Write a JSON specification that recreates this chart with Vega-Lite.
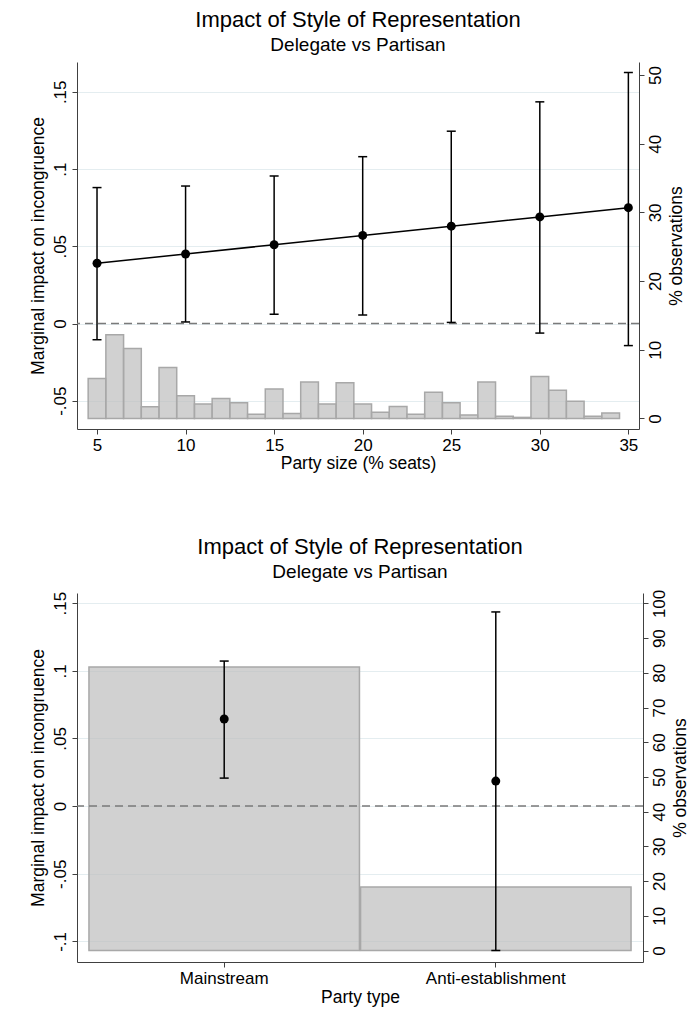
{
  "$schema": "https://vega.github.io/schema/vega-lite/v6.json",
  "padding": {"left": 29, "top": 9, "right": 5, "bottom": 4},
  "spacing": 64,
  "config": {
    "font": "Liberation Sans",
    "view": {"stroke": null},
    "axis": {
      "domainColor": "#404040", "tickColor": "#404040", "labelColor": "#000000", "titleColor": "#000000",
      "labelFontSize": 17, "titleFontSize": 17.5, "titleFontWeight": "normal", "tickSize": 5,
      "gridColor": "#e4edf0", "labelFont": "Liberation Sans", "titleFont": "Liberation Sans"
    },
    "title": {
      "fontSize": 22, "fontWeight": "normal", "color": "#000000", "subtitleFontSize": 19, "subtitleColor": "#000000",
      "subtitleFont": "Liberation Sans", "font": "Liberation Sans",
      "anchor": "middle", "frame": "group", "subtitlePadding": 4, "offset": 6
    }
  },
  "datasets": {
    "hist": [
      {"bin_start": 4.5, "bin_end": 5.5, "pct": 5.8},
      {"bin_start": 5.5, "bin_end": 6.5, "pct": 12.2},
      {"bin_start": 6.5, "bin_end": 7.5, "pct": 10.2},
      {"bin_start": 7.5, "bin_end": 8.5, "pct": 1.7},
      {"bin_start": 8.5, "bin_end": 9.5, "pct": 7.4},
      {"bin_start": 9.5, "bin_end": 10.5, "pct": 3.3},
      {"bin_start": 10.5, "bin_end": 11.5, "pct": 2.1},
      {"bin_start": 11.5, "bin_end": 12.5, "pct": 2.9},
      {"bin_start": 12.5, "bin_end": 13.5, "pct": 2.3},
      {"bin_start": 13.5, "bin_end": 14.5, "pct": 0.6},
      {"bin_start": 14.5, "bin_end": 15.5, "pct": 4.3},
      {"bin_start": 15.5, "bin_end": 16.5, "pct": 0.7},
      {"bin_start": 16.5, "bin_end": 17.5, "pct": 5.3},
      {"bin_start": 17.5, "bin_end": 18.5, "pct": 2.1},
      {"bin_start": 18.5, "bin_end": 19.5, "pct": 5.2},
      {"bin_start": 19.5, "bin_end": 20.5, "pct": 2.1},
      {"bin_start": 20.5, "bin_end": 21.5, "pct": 0.9},
      {"bin_start": 21.5, "bin_end": 22.5, "pct": 1.75},
      {"bin_start": 22.5, "bin_end": 23.5, "pct": 0.6},
      {"bin_start": 23.5, "bin_end": 24.5, "pct": 3.8},
      {"bin_start": 24.5, "bin_end": 25.5, "pct": 2.3},
      {"bin_start": 25.5, "bin_end": 26.5, "pct": 0.5},
      {"bin_start": 26.5, "bin_end": 27.5, "pct": 5.3},
      {"bin_start": 27.5, "bin_end": 28.5, "pct": 0.3},
      {"bin_start": 28.5, "bin_end": 29.5, "pct": 0.15},
      {"bin_start": 29.5, "bin_end": 30.5, "pct": 6.1},
      {"bin_start": 30.5, "bin_end": 31.5, "pct": 4.1},
      {"bin_start": 31.5, "bin_end": 32.5, "pct": 2.5},
      {"bin_start": 32.5, "bin_end": 33.5, "pct": 0.3},
      {"bin_start": 33.5, "bin_end": 34.5, "pct": 0.8}
    ],
    "est": [
      {"size": 5, "est": 0.039, "lo": -0.0105, "hi": 0.088},
      {"size": 10, "est": 0.045, "lo": 0.001, "hi": 0.089},
      {"size": 15, "est": 0.051, "lo": 0.006, "hi": 0.0955},
      {"size": 20, "est": 0.057, "lo": 0.0055, "hi": 0.108},
      {"size": 25, "est": 0.063, "lo": 0.0007, "hi": 0.1245},
      {"size": 30, "est": 0.069, "lo": -0.0062, "hi": 0.1435},
      {"size": 35, "est": 0.075, "lo": -0.0143, "hi": 0.1625}
    ],
    "typebar": [
      {"type": "Mainstream", "pct": 81.7},
      {"type": "Anti-establishment", "pct": 18.3}
    ],
    "typeest": [
      {"type": "Mainstream", "est": 0.0644, "lo": 0.0207, "hi": 0.1072},
      {"type": "Anti-establishment", "est": 0.0185, "lo": -0.1067, "hi": 0.1435}
    ],
    "zero": [{"z": 0}]
  },
  "vconcat": [
    {
      "width": 562,
      "height": 367,
      "title": {"text": "Impact of Style of Representation", "subtitle": "Delegate vs Partisan"},
      "resolve": {"scale": {"y": "independent"}},
      "layer": [
        {
          "data": {"name": "hist"},
          "mark": {"type": "bar", "fill": "#bdbdbd", "fillOpacity": 0.7, "stroke": "#a8a8a8", "strokeWidth": 1.5},
          "encoding": {
            "x": {"field": "bin_start", "type": "quantitative", "title": "Party size (% seats)",
              "scale": {"domain": [3.87, 35.6], "nice": false, "zero": false},
              "axis": {"values": [5, 10, 15, 20, 25, 30, 35], "grid": false, "labelPadding": 3, "titlePadding": 1, "labelAngle": 0}},
            "x2": {"field": "bin_end"},
            "y": {"field": "pct", "type": "quantitative", "title": "% observations",
              "scale": {"domain": [-1.54, 51.9], "nice": false, "zero": false},
              "axis": {"orient": "right", "values": [0, 10, 20, 30, 40, 50], "grid": false, "labelAngle": -90,
                "labelAlign": "center", "labelBaseline": "top", "labelPadding": 3,
                "titleAngle": -90, "titleBaseline": "top", "titlePadding": 4}},
            "y2": {"datum": 0}
          }
        },
        {
          "layer": [
            {
              "data": {"name": "zero"},
              "mark": {"type": "rule", "color": "#7a7a7a", "strokeWidth": 1.5, "strokeDash": [8, 5]},
              "encoding": {
                "y": {"field": "z", "type": "quantitative", "title": "Marginal impact on incongruence",
                  "scale": {"domain": [-0.0683, 0.1693], "nice": false, "zero": false},
                  "axis": {"orient": "left", "values": [-0.05, 0, 0.05, 0.1, 0.15], "grid": true, "labelAngle": -90,
                    "labelAlign": "center", "labelBaseline": "bottom", "labelPadding": 3,
                    "labelExpr": "replace(datum.value + '', '0.', '.')", "titlePadding": 4}}
              }
            },
            {
              "data": {"name": "est"},
              "mark": {"type": "rule", "color": "#000000", "strokeWidth": 1.5},
              "encoding": {
                "x": {"field": "size", "type": "quantitative", "title": "Party size (% seats)"},
                "y": {"field": "lo", "type": "quantitative", "title": "Marginal impact on incongruence"},
                "y2": {"field": "hi"}
              }
            },
            {
              "data": {"name": "est"},
              "mark": {"type": "tick", "orient": "horizontal", "color": "#000000", "size": 9, "thickness": 1.5, "opacity": 1},
              "encoding": {
                "x": {"field": "size", "type": "quantitative", "title": "Party size (% seats)"},
                "y": {"field": "lo", "type": "quantitative", "title": "Marginal impact on incongruence"}
              }
            },
            {
              "data": {"name": "est"},
              "mark": {"type": "tick", "orient": "horizontal", "color": "#000000", "size": 9, "thickness": 1.5, "opacity": 1},
              "encoding": {
                "x": {"field": "size", "type": "quantitative", "title": "Party size (% seats)"},
                "y": {"field": "hi", "type": "quantitative", "title": "Marginal impact on incongruence"}
              }
            },
            {
              "data": {"name": "est"},
              "mark": {"type": "line", "color": "#000000", "strokeWidth": 1.5},
              "encoding": {
                "x": {"field": "size", "type": "quantitative", "title": "Party size (% seats)"},
                "y": {"field": "est", "type": "quantitative", "title": "Marginal impact on incongruence"}
              }
            },
            {
              "data": {"name": "est"},
              "mark": {"type": "circle", "color": "#000000", "size": 80, "opacity": 1},
              "encoding": {
                "x": {"field": "size", "type": "quantitative", "title": "Party size (% seats)"},
                "y": {"field": "est", "type": "quantitative", "title": "Marginal impact on incongruence"}
              }
            }
          ]
        }
      ]
    },
    {
      "width": 566,
      "height": 369,
      "title": {"text": "Impact of Style of Representation", "subtitle": "Delegate vs Partisan"},
      "resolve": {"scale": {"y": "independent"}},
      "layer": [
        {
          "data": {"name": "typebar"},
          "mark": {"type": "bar", "fill": "#bdbdbd", "fillOpacity": 0.7, "stroke": "#a8a8a8", "strokeWidth": 1.5},
          "encoding": {
            "x": {"field": "type", "type": "nominal", "title": "Party type", "sort": ["Mainstream", "Anti-establishment"],
              "scale": {"paddingInner": 0.004, "paddingOuter": 0.044},
              "axis": {"labelAngle": 0, "grid": false, "labelPadding": 3, "titlePadding": 2}},
            "y": {"field": "pct", "type": "quantitative", "title": "% observations",
              "scale": {"domain": [-3.3, 103], "nice": false, "zero": false},
              "axis": {"orient": "right", "values": [0, 10, 20, 30, 40, 50, 60, 70, 80, 90, 100], "grid": false, "labelAngle": -90,
                "labelAlign": "center", "labelBaseline": "top", "labelPadding": 3,
                "titleAngle": -90, "titleBaseline": "top", "titlePadding": 4}},
            "y2": {"datum": 0}
          }
        },
        {
          "layer": [
            {
              "data": {"name": "zero"},
              "mark": {"type": "rule", "color": "#7a7a7a", "strokeWidth": 1.5, "strokeDash": [8, 5]},
              "encoding": {
                "y": {"field": "z", "type": "quantitative", "title": "Marginal impact on incongruence",
                  "scale": {"domain": [-0.1152, 0.1575], "nice": false, "zero": false},
                  "axis": {"orient": "left", "values": [-0.1, -0.05, 0, 0.05, 0.1, 0.15], "grid": true, "labelAngle": -90,
                    "labelAlign": "center", "labelBaseline": "bottom", "labelPadding": 3,
                    "labelExpr": "replace(datum.value + '', '0.', '.')", "titlePadding": 4}}
              }
            },
            {
              "data": {"name": "typeest"},
              "mark": {"type": "rule", "color": "#000000", "strokeWidth": 1.5},
              "encoding": {
                "x": {"field": "type", "type": "nominal", "title": "Party type", "sort": ["Mainstream", "Anti-establishment"]},
                "y": {"field": "lo", "type": "quantitative", "title": "Marginal impact on incongruence"},
                "y2": {"field": "hi"}
              }
            },
            {
              "data": {"name": "typeest"},
              "mark": {"type": "tick", "orient": "horizontal", "color": "#000000", "size": 9, "thickness": 1.5, "opacity": 1},
              "encoding": {
                "x": {"field": "type", "type": "nominal", "title": "Party type", "sort": ["Mainstream", "Anti-establishment"]},
                "y": {"field": "lo", "type": "quantitative", "title": "Marginal impact on incongruence"}
              }
            },
            {
              "data": {"name": "typeest"},
              "mark": {"type": "tick", "orient": "horizontal", "color": "#000000", "size": 9, "thickness": 1.5, "opacity": 1},
              "encoding": {
                "x": {"field": "type", "type": "nominal", "title": "Party type", "sort": ["Mainstream", "Anti-establishment"]},
                "y": {"field": "hi", "type": "quantitative", "title": "Marginal impact on incongruence"}
              }
            },
            {
              "data": {"name": "typeest"},
              "mark": {"type": "circle", "color": "#000000", "size": 80, "opacity": 1},
              "encoding": {
                "x": {"field": "type", "type": "nominal", "title": "Party type", "sort": ["Mainstream", "Anti-establishment"]},
                "y": {"field": "est", "type": "quantitative", "title": "Marginal impact on incongruence"}
              }
            }
          ]
        }
      ]
    }
  ]
}
